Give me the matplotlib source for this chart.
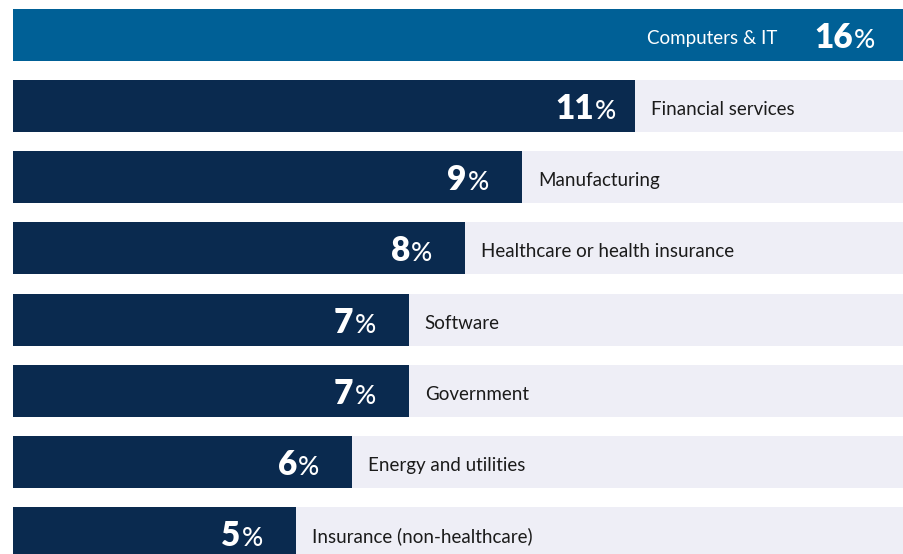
import matplotlib
matplotlib.use("Agg")
import matplotlib.pyplot as plt

industries = ["Computers & IT", "Financial services", "Manufacturing",
              "Healthcare or health insurance", "Software", "Government",
              "Energy and utilities", "Insurance (non-healthcare)"]
shares = [16, 11, 9, 8, 7, 7, 6, 5]

HIGHLIGHT = "#006096"
DARK = "#0A2A4F"
TRACK = "#EEEEF6"
XMAX = 15.76

fig = plt.figure(figsize=(9.04, 5.54), dpi=100)
ax = fig.add_axes([13 / 904, 0, 891 / 904, 1])

y = list(range(len(shares)))
colors = [HIGHLIGHT] + [DARK] * (len(shares) - 1)

# light background track + value bar
ax.barh(y, [XMAX] * len(shares), height=0.731, color=TRACK, linewidth=0)
ax.barh(y, shares, height=0.731, color=colors, linewidth=0)
ax.set_xlim(0, XMAX)
ax.set_ylim(7.295, -0.492)
ax.axis("off")

renderer = fig.canvas.get_renderer()

for i, (name, v) in enumerate(zip(industries, shares)):
    end = min(v, XMAX)
    if i == 0:
        pad = 29
    elif v >= 10:
        pad = 19
    else:
        pad = 33
    # percent sign, lighter weight
    pct = ax.annotate("%", xy=(end, i), xytext=(-pad, -13), textcoords="offset pixels",
                      ha="right", va="baseline", color="white", fontsize=19,
                      family="Lato", fontweight="medium")
    w = pct.get_window_extent(renderer).width
    ax.annotate(str(v), xy=(end, i), xytext=(-pad - w - 1, -13), textcoords="offset pixels",
                ha="right", va="baseline", color="white", fontsize=24,
                family="Lato", fontweight="heavy")
    if i == 0:
        ax.annotate(name, xy=(end, i), xytext=(-127, -9), textcoords="offset pixels",
                    ha="right", va="baseline", color="white", fontsize=13.5,
                    family="Lato")
    else:
        ax.annotate(name, xy=(end, i), xytext=(16, -9), textcoords="offset pixels",
                    ha="left", va="baseline", color="#1b1b1b", fontsize=13.5,
                    family="Lato")

plt.savefig("out.png", dpi=100)
